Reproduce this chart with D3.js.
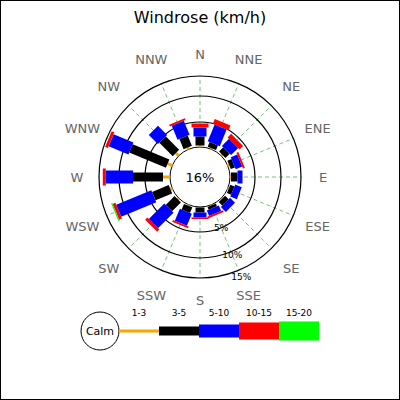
<!DOCTYPE html>
<html><head><meta charset="utf-8">
<script src="https://cdn.jsdelivr.net/npm/d3@7"></script>
<style>body{margin:0}svg{display:block}</style>
</head><body>
<script>
const directions = ["N","NNE","NE","ENE","E","ESE","SE","SSE","S","SSW","SW","WSW","W","WNW","NW","NNW"];
const speedRanges = ["1-3","3-5","5-10","10-15","15-20"];
const rangeColors = ["#ffa500","#000000","#0000ff","#ff0000","#00ff00"];
const s13  = [0.3,0.2,0.3,0.3,0.2,0.2,0.2,0.1,0.1,0.2,0.3,0.4,1.4,1.0,0.8,0.4];
const s35  = [1.8,1.0,1.2,0.9,1.3,0.9,1.0,0.6,1.0,1.2,2.5,3.6,5.9,7.8,3.8,2.2];
const s510 = [1.8,3.6,2.0,1.4,1.0,1.4,1.4,1.2,1.0,2.6,4.3,7.75,6.0,5.0,2.5,3.0];
const s1015= [0.8,1.0,1.0,0.4,0,0,0,0.4,0.3,0.4,0.6,0.75,0.75,0.75,0,0.4];
const s1520= [0,0,0,0,0,0,0,0,0,0,0,0.3,0,0,0,0];
const ringValues = [5,10,15];
const calmLabel = "16%";
const title = "Windrose (km/h)";

const W=400,H=400,cx=200,cy=177;
const svg=d3.select("body").append("svg").attr("width",W).attr("height",H);
svg.append("rect").attr("x",0.5).attr("y",0.5).attr("width",W-1).attr("height",H-1).attr("fill","#fff").attr("stroke","#000");
svg.append("text").attr("x",200).attr("y",23).attr("text-anchor","middle").attr("font-family","DejaVu Sans").attr("font-size",16).text(title);

const r=d3.scaleLinear().domain([0,5,10,15]).range([30,55,81,101]);
const ang=d3.scaleLinear().domain([0,16]).range([0,2*Math.PI]);
const g=svg.append("g").attr("transform",`translate(${cx},${cy})`);

directions.forEach((d,i)=>{
  const a=ang(i);
  g.append("line").attr("x1",r(0)*Math.sin(a)).attr("y1",-r(0)*Math.cos(a))
   .attr("x2",r(15)*Math.sin(a)).attr("y2",-r(15)*Math.cos(a))
   .attr("stroke","#339933").attr("stroke-opacity",0.8).attr("stroke-width",0.8).attr("stroke-dasharray","4,3");
  const lr=123+6*Math.abs(Math.sin(2*a));
  g.append("text").attr("x",lr*Math.sin(a)).attr("y",-lr*Math.cos(a)+5)
   .attr("text-anchor","middle").attr("font-family","DejaVu Sans").attr("font-size",13).attr("fill","#666").text(d);
});
ringValues.forEach(v=>g.append("circle").attr("r",r(v)).attr("fill","none").attr("stroke","#000").attr("stroke-width",1.2));
g.append("circle").attr("r",r(0)).attr("fill","#fff").attr("stroke","#000");

const series=[s13,s35,s510,s1015,s1520];
const widths=[3,9,13,17,19];
directions.forEach((d,i)=>{
  let cum=0;
  const gd=g.append("g").attr("transform",`rotate(${ang(i)*180/Math.PI})`);
  series.forEach((s,k)=>{
    const v=s[i]; if(v<=0){return;}
    const r0=r(cum), r1=r(cum+v); cum+=v;
    gd.append("rect").attr("x",-widths[k]/2).attr("y",-r1).attr("width",widths[k]).attr("height",r1-r0).attr("fill",rangeColors[k]);
  });
});
g.append("text").attr("x",0).attr("y",5).attr("text-anchor","middle").attr("font-family","DejaVu Sans").attr("font-size",13).text(calmLabel);
const la=ang(7);
ringValues.forEach(v=>{
  const rr=r(v)+(v-5)*0.7;
  g.append("text").attr("x",rr*Math.sin(la)).attr("y",-rr*Math.cos(la)+3)
   .attr("text-anchor","middle").attr("font-family","DejaVu Sans").attr("font-size",9).text(v+"%");
});

const lg=svg.append("g");
lg.append("circle").attr("cx",100).attr("cy",331).attr("r",19).attr("fill","#fff").attr("stroke","#000");
lg.append("text").attr("x",100).attr("y",335).attr("text-anchor","middle").attr("font-family","DejaVu Sans").attr("font-size",11).text("Calm");
const lx=d3.scaleBand().domain(speedRanges).range([119,319]);
speedRanges.forEach((s,k)=>{
  lg.append("rect").attr("x",lx(s)).attr("y",331-widths[k]/2).attr("width",lx.bandwidth()).attr("height",widths[k]).attr("fill",rangeColors[k]);
  lg.append("text").attr("x",lx(s)+lx.bandwidth()/2).attr("y",316).attr("text-anchor","middle").attr("font-family","DejaVu Sans").attr("font-size",9).text(s);
});
</script>
</body></html>
